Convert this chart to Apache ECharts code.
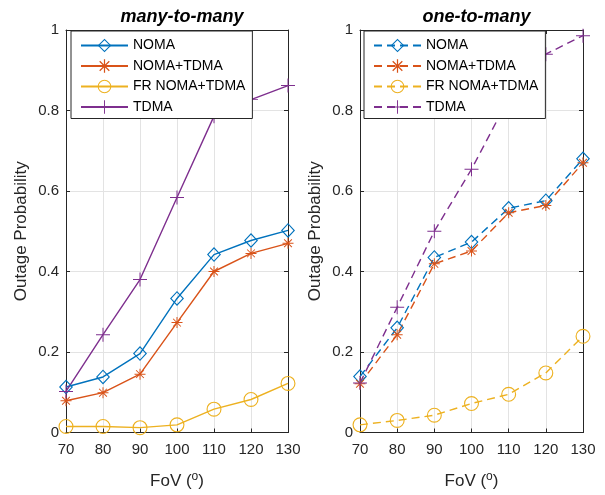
<!DOCTYPE html>
<html>
<head>
<meta charset="utf-8">
<script src="https://cdn.jsdelivr.net/npm/echarts@6/dist/echarts.min.js"></script>
<style>
html,body{margin:0;padding:0;background:#fff;}
#chart{width:605px;height:495px;}
</style>
</head>
<body>
<div id="chart"></div>
<script>
// ---- data ----
var fov = [70, 80, 90, 100, 110, 120, 130];
var seriesNames = ['NOMA', 'NOMA+TDMA', 'FR NOMA+TDMA', 'TDMA'];
var titles = ['many-to-many', 'one-to-many'];
var yTicks = [0, 0.2, 0.4, 0.6, 0.8, 1];

// many-to-many (left)
var m2m_NOMA      = [0.113, 0.138, 0.196, 0.333, 0.442, 0.477, 0.502];
var m2m_NOMA_TDMA = [0.079, 0.099, 0.145, 0.273, 0.400, 0.445, 0.470];
var m2m_FR        = [0.015, 0.015, 0.012, 0.019, 0.058, 0.082, 0.122];
var m2m_TDMA      = [0.102, 0.243, 0.380, 0.584, 0.786, 0.827, 0.862];

// one-to-many (right)
var o2m_NOMA      = [0.139, 0.260, 0.435, 0.473, 0.557, 0.576, 0.680];
var o2m_NOMA_TDMA = [0.121, 0.243, 0.419, 0.451, 0.546, 0.564, 0.670];
var o2m_FR        = [0.019, 0.030, 0.043, 0.072, 0.095, 0.148, 0.239];
var o2m_TDMA      = [0.123, 0.311, 0.500, 0.654, 0.830, 0.940, 0.986];

// ---- styles ----
var colors = ['#0072BD', '#D95319', '#EDB120', '#7E2F8E'];
var FONT = 'Liberation Sans, Arial, Helvetica, sans-serif';
var AX = '#262626';

var SYM_DIAMOND = 'path://M10 0L20 10L10 20L0 10ZM10 2.2L2.2 10L10 17.8L17.8 10Z';
var SYM_CIRCLE = 'path://M0 10A10 10 0 1 1 20 10A10 10 0 1 1 0 10ZM1.5 10A8.5 8.5 0 1 0 18.5 10A8.5 8.5 0 1 0 1.5 10Z';
var SYM_PLUS = 'path://M9.3 0H10.7V20H9.3ZM0 9.3H20V10.7H0Z';
var SYM_STAR = 'path://M9.1 0H10.9V20H9.1ZM0 9.1H20V10.9H0Z' +
  'M3.57 2.3L17.7 16.43L16.43 17.7L2.3 3.57Z' +
  'M2.3 16.43L16.43 2.3L17.7 3.57L3.57 17.7Z';
var symbols = [SYM_DIAMOND, SYM_STAR, SYM_CIRCLE, SYM_PLUS];
var symSizes = [[14, 15], 11, 15, 14];

function pairs(arr) { return fov.map(function (x, i) { return [x, arr[i]]; }); }

var grids = [
  {left: 66, top: 30, width: 222, height: 408},
  {left: 360, top: 30, width: 223, height: 408}
];

var xAxes = [], yAxes = [];
for (var g = 0; g < 2; g++) {
  xAxes.push({
    type: 'value', gridIndex: g, min: 70, max: 130, interval: 10, position: 'bottom',
    name: 'FoV ({sup|o})', nameLocation: 'middle', nameGap: 38,
    nameTextStyle: {fontFamily: FONT, fontSize: 17, color: AX,
      rich: {sup: {fontFamily: FONT, fontSize: 12, color: AX, padding: [0, 0, 10, 0]}}},
    axisLine: {show: true, lineStyle: {color: AX, width: 1}},
    axisTick: {show: true, inside: true, length: 4, lineStyle: {color: AX}},
    axisLabel: {fontFamily: FONT, fontSize: 15, color: AX, margin: 10},
    splitLine: {show: true, lineStyle: {color: '#e3e3e3', width: 1}}
  });
  xAxes.push({
    type: 'value', gridIndex: g, min: 70, max: 130, interval: 10, position: 'top',
    axisLine: {show: true, onZero: false, lineStyle: {color: AX, width: 1}},
    axisTick: {show: true, inside: true, length: 4, lineStyle: {color: AX}},
    axisLabel: {show: false}, splitLine: {show: false}
  });
  yAxes.push({
    type: 'value', gridIndex: g, min: 0, max: 1, interval: 0.2, position: 'left',
    name: 'Outage Probability', nameLocation: 'middle', nameGap: 36,
    nameTextStyle: {fontFamily: FONT, fontSize: 17, color: AX},
    axisLine: {show: true, lineStyle: {color: AX, width: 1}},
    axisTick: {show: true, inside: true, length: 4, lineStyle: {color: AX}},
    axisLabel: {fontFamily: FONT, fontSize: 15, color: AX, margin: 7,
      formatter: function (v) { var t = yTicks.filter(function (k) { return Math.abs(k - v) < 1e-9; }); return t.length ? String(t[0]) : ''; }},
    splitLine: {show: true, lineStyle: {color: '#e3e3e3', width: 1}}
  });
  yAxes.push({
    type: 'value', gridIndex: g, min: 0, max: 1, interval: 0.2, position: 'right',
    axisLine: {show: true, onZero: false, lineStyle: {color: AX, width: 1}},
    axisTick: {show: true, inside: true, length: 4, lineStyle: {color: AX}},
    axisLabel: {show: false}, splitLine: {show: false}
  });
}

var leftData = [m2m_NOMA, m2m_NOMA_TDMA, m2m_FR, m2m_TDMA];
var rightData = [o2m_NOMA, o2m_NOMA_TDMA, o2m_FR, o2m_TDMA];
var series = [];
function addSeries(dataSets, g, prefix, dashed) {
  dataSets.forEach(function (arr, i) {
    series.push({
      type: 'line', name: prefix + seriesNames[i],
      xAxisIndex: g * 2, yAxisIndex: g * 2,
      data: pairs(arr),
      symbol: symbols[i], symbolSize: symSizes[i], symbolKeepAspect: false,
      showAllSymbol: true,
      lineStyle: {color: colors[i], width: 1.4, type: dashed ? [8, 5] : 'solid'},
      itemStyle: {color: colors[i], borderWidth: 0},
      emphasis: {disabled: true},
      animation: false, z: 2
    });
  });
}
addSeries(leftData, 0, '', false);
addSeries(rightData, 1, 'r:', true);

function legendFor(left, prefix) {
  return {
    orient: 'vertical', left: left, top: 31,
    data: seriesNames.map(function (n) { return prefix + n; }),
    formatter: function (n) { return n.replace(/^r:/, ''); },
    itemWidth: 47, itemHeight: 17, itemGap: 3.5,
    padding: [6, 7, 3, 9],
    backgroundColor: '#fff', borderColor: AX, borderWidth: 1,
    textStyle: {fontFamily: FONT, fontSize: 14, color: '#000', lineHeight: 17},
    selectedMode: false, z: 10
  };
}

var option = {
  backgroundColor: '#fff',
  animation: false,
  title: [
    {text: titles[0], left: 177, top: 3, textAlign: 'center',
      textStyle: {fontFamily: FONT, fontSize: 18, fontWeight: 'bold', fontStyle: 'italic', color: '#000'}},
    {text: titles[1], left: 471.5, top: 3, textAlign: 'center',
      textStyle: {fontFamily: FONT, fontSize: 18, fontWeight: 'bold', fontStyle: 'italic', color: '#000'}}
  ],
  grid: grids,
  xAxis: xAxes,
  yAxis: yAxes,
  legend: [legendFor(71, ''), legendFor(364, 'r:')],
  series: series
};

var chart = echarts.init(document.getElementById('chart'), null, {renderer: 'canvas'});
chart.setOption(option);
</script>
</body>
</html>
